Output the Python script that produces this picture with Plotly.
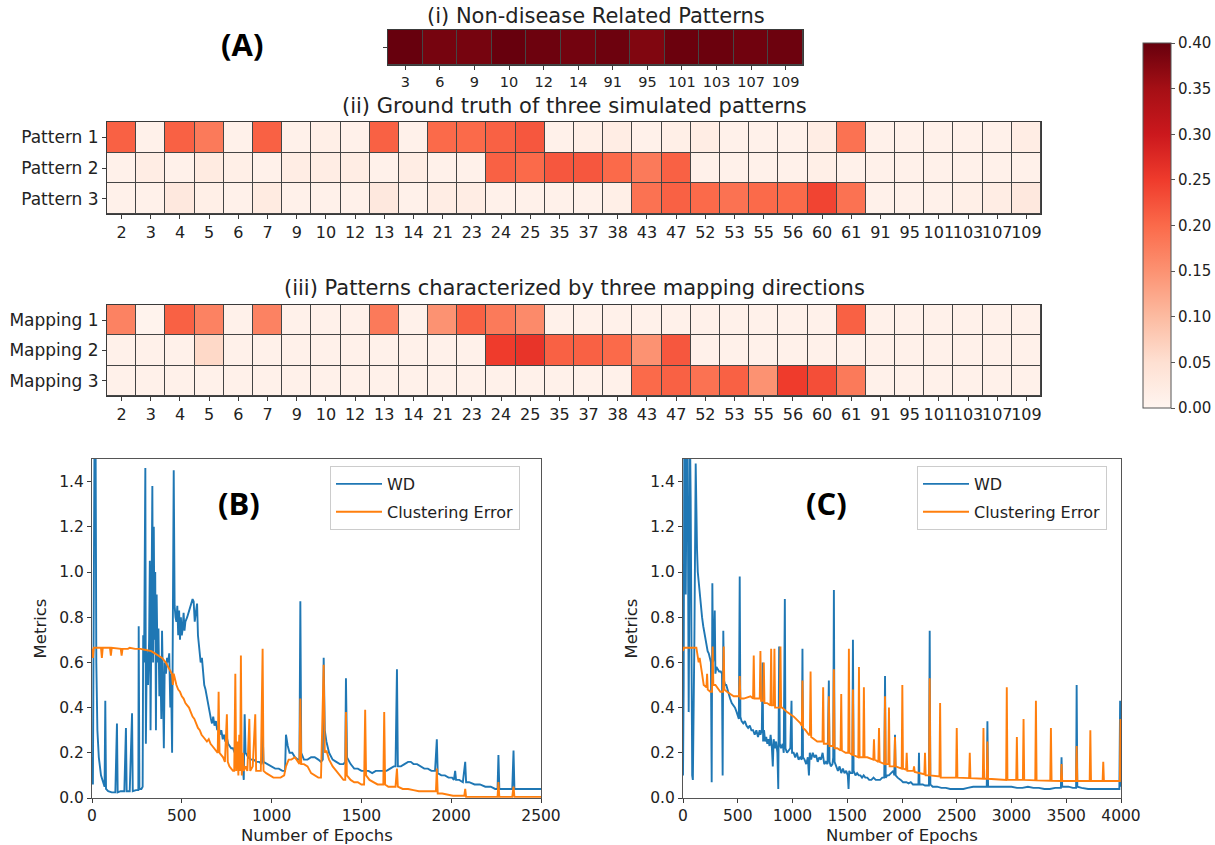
import plotly.graph_objects as go

# ---------------- data ----------------
nd_labels = ["3", "6", "9", "10", "12", "14", "91", "95", "101", "103", "107", "109"]
nd_values = [0.40, 0.388, 0.388, 0.40, 0.395, 0.39, 0.395, 0.38, 0.397, 0.397, 0.393, 0.395]

region_labels = ["2", "3", "4", "5", "6", "7", "9", "10", "12", "13", "14", "21", "23", "24",
                 "25", "35", "37", "38", "43", "47", "52", "53", "55", "56", "60", "61",
                 "91", "95", "101", "103", "107", "109"]
pattern_names = ["Pattern 1", "Pattern 2", "Pattern 3"]
pattern_1 = [0.21, 0.01, 0.21, 0.18, 0.01, 0.21, 0.01, 0.015, 0.01, 0.21, 0.01, 0.2, 0.2, 0.21,
             0.22, 0.01, 0.015, 0.02, 0.01, 0.015, 0.02, 0.01, 0.01, 0.01, 0.02, 0.19,
             0.01, 0.01, 0.01, 0.01, 0.01, 0.02]
pattern_2 = [0.01, 0.02, 0.01, 0.025, 0.015, 0.01, 0.02, 0.02, 0.02, 0.01, 0.02, 0.01, 0.01, 0.21,
             0.2, 0.22, 0.22, 0.2, 0.18, 0.21, 0.01, 0.01, 0.01, 0.01, 0.015, 0.01,
             0.01, 0.01, 0.01, 0.01, 0.01, 0.01]
pattern_3 = [0.01, 0.01, 0.03, 0.015, 0.01, 0.025, 0.01, 0.01, 0.01, 0.03, 0.01, 0.02, 0.02, 0.01,
             0.01, 0.01, 0.01, 0.015, 0.19, 0.21, 0.2, 0.19, 0.2, 0.2, 0.24, 0.19,
             0.01, 0.01, 0.01, 0.015, 0.02, 0.03]

mapping_names = ["Mapping 1", "Mapping 2", "Mapping 3"]
mapping_1 = [0.17, 0.005, 0.21, 0.17, 0.01, 0.17, 0.01, 0.01, 0.01, 0.18, 0.01, 0.15, 0.21, 0.18,
             0.16, 0.01, 0.01, 0.01, 0.01, 0.01, 0.01, 0.01, 0.01, 0.01, 0.01, 0.21,
             0.01, 0.01, 0.01, 0.01, 0.01, 0.01]
mapping_2 = [0.01, 0.01, 0.01, 0.06, 0.01, 0.01, 0.01, 0.01, 0.01, 0.01, 0.01, 0.01, 0.01, 0.25,
             0.26, 0.21, 0.21, 0.2, 0.15, 0.22, 0.01, 0.01, 0.01, 0.01, 0.01, 0.01,
             0.01, 0.01, 0.01, 0.01, 0.01, 0.01]
mapping_3 = [0.01, 0.01, 0.01, 0.01, 0.01, 0.01, 0.01, 0.01, 0.01, 0.01, 0.01, 0.01, 0.01, 0.01,
             0.01, 0.01, 0.01, 0.01, 0.2, 0.21, 0.19, 0.21, 0.15, 0.25, 0.23, 0.18,
             0.01, 0.01, 0.01, 0.01, 0.01, 0.01]

# (B) Wasserstein distance and clustering error, (epoch, value)
wd_b = [(0,0.18),(5,0.06),(10,0.9),(14,1.6),(20,1.6),(24,0.6),(30,0.3),(38,0.18),(50,0.1),(60,0.07),
        (70,0.05),(74,0.43),(78,0.04),(90,0.03),(110,0.025),(130,0.025),(139,0.33),(143,0.025),(160,0.03),
        (180,0.03),(189,0.31),(193,0.03),(210,0.03),(223,0.375),(227,0.03),(245,0.035),(258,0.035),
        (260,0.76),(264,0.04),(275,0.04),(282,0.05),(285,0.72),(290,0.6),(297,1.46),(300,0.24),(305,0.65),
        (312,0.5),(318,0.7),(322,1.05),(326,0.3),(330,0.9),(336,1.38),(340,0.6),(344,1.2),(348,0.7),
        (352,1.0),(356,0.3),(360,0.9),(365,0.6),(370,0.75),(375,0.45),(380,0.62),(386,0.35),(390,0.74),
        (395,0.5),(400,0.22),(405,0.6),(412,0.55),(418,0.62),(424,0.6),(430,0.64),(436,0.4),(440,0.55),
        (446,0.2),(455,1.45),(460,0.85),(465,0.8),(470,0.78),(475,0.85),(480,0.72),(485,0.83),(490,0.7),
        (495,0.8),(500,0.72),(505,0.75),(510,0.82),(515,0.74),(520,0.78),(530,0.8),(540,0.83),(550,0.85),
        (560,0.88),(566,0.87),(572,0.78),(578,0.82),(585,0.86),(590,0.72),(598,0.66),(605,0.6),(612,0.62),
        (618,0.55),(625,0.5),(632,0.48),(640,0.44),(648,0.42),(655,0.38),(662,0.35),(668,0.33),(675,0.36),
        (682,0.32),(690,0.34),(697,0.3),(705,0.32),(712,0.28),(720,0.3),(728,0.26),(735,0.28),(742,0.25),
        (750,0.27),(758,0.24),(765,0.23),(775,0.22),(785,0.22),(795,0.2),(805,0.2),(815,0.19),(825,0.2),
        (835,0.18),(845,0.08),(850,0.37),(855,0.2),(870,0.18),(885,0.17),(900,0.17),(915,0.16),(930,0.16),
        (945,0.15),(950,0.3),(955,0.16),(975,0.15),(1000,0.14),(1020,0.13),(1040,0.13),(1060,0.12),
        (1075,0.12),(1080,0.28),(1090,0.23),(1100,0.2),(1115,0.2),(1130,0.18),(1145,0.17),(1155,0.17),
        (1160,0.87),(1165,0.2),(1180,0.17),(1200,0.17),(1220,0.18),(1240,0.18),(1260,0.17),(1275,0.16),
        (1285,0.17),(1290,0.62),(1296,0.3),(1305,0.25),(1320,0.2),(1340,0.17),(1360,0.16),(1380,0.15),
        (1400,0.15),(1410,0.16),(1414,0.53),(1420,0.18),(1440,0.15),(1460,0.13),(1480,0.13),(1500,0.12),
        (1520,0.12),(1540,0.12),(1560,0.11),(1580,0.12),(1600,0.12),(1620,0.12),(1640,0.12),(1660,0.13),
        (1680,0.14),(1690,0.14),(1698,0.57),(1703,0.14),(1720,0.14),(1740,0.15),(1760,0.16),(1775,0.16),
        (1790,0.15),(1810,0.15),(1830,0.14),(1850,0.13),(1870,0.13),(1890,0.12),(1910,0.12),(1920,0.26),
        (1925,0.11),(1945,0.1),(1965,0.1),(1985,0.09),(2005,0.09),(2015,0.08),(2022,0.12),(2027,0.08),
        (2045,0.08),(2065,0.07),(2078,0.16),(2083,0.07),(2100,0.07),(2130,0.06),(2160,0.06),(2190,0.05),
        (2220,0.05),(2245,0.04),(2258,0.04),(2263,0.19),(2268,0.04),(2300,0.04),(2340,0.04),(2347,0.21),
        (2352,0.04),(2400,0.04),(2450,0.04),(2500,0.04)]
ce_b = [(0,0.66),(5,0.62),(10,0.665),(50,0.665),(55,0.62),(60,0.665),(100,0.665),(105,0.63),(110,0.665),
        (150,0.66),(160,0.66),(165,0.63),(170,0.66),(200,0.66),(210,0.665),(240,0.66),(270,0.66),(300,0.655),
        (330,0.65),(350,0.64),(370,0.63),(390,0.62),(410,0.6),(430,0.57),(445,0.55),(450,0.5),(455,0.55),
        (470,0.5),(480,0.48),(490,0.47),(500,0.45),(510,0.44),(520,0.42),(530,0.41),(540,0.4),(550,0.38),
        (560,0.36),(570,0.35),(580,0.33),(590,0.31),(600,0.3),(610,0.28),(620,0.27),(630,0.26),(640,0.25),
        (650,0.26),(660,0.24),(670,0.23),(680,0.22),(690,0.21),(700,0.2),(705,0.47),(710,0.2),(720,0.19),
        (730,0.18),(740,0.16),(751,0.37),(756,0.16),(765,0.14),(775,0.13),(785,0.12),(792,0.12),(798,0.55),
        (803,0.12),(810,0.25),(815,0.1),(820,0.28),(825,0.12),(829,0.63),(834,0.1),(840,0.2),(845,0.12),
        (855,0.14),(865,0.12),(876,0.35),(881,0.12),(895,0.14),(909,0.37),(914,0.12),(925,0.12),(940,0.12),
        (950,0.66),(955,0.12),(970,0.11),(990,0.1),(1010,0.09),(1030,0.09),(1050,0.09),(1070,0.1),
        (1080,0.14),(1095,0.17),(1110,0.17),(1130,0.18),(1145,0.16),(1155,0.15),(1160,0.44),(1165,0.15),
        (1180,0.15),(1200,0.14),(1220,0.11),(1240,0.1),(1260,0.09),(1275,0.09),(1290,0.59),(1296,0.2),
        (1305,0.21),(1320,0.17),(1340,0.14),(1360,0.12),(1380,0.1),(1400,0.08),(1410,0.08),(1414,0.38),
        (1419,0.1),(1440,0.08),(1460,0.07),(1480,0.07),(1500,0.06),(1515,0.06),(1521,0.39),(1526,0.1),
        (1545,0.08),(1565,0.07),(1590,0.06),(1610,0.06),(1622,0.06),(1627,0.38),(1632,0.06),(1650,0.05),
        (1670,0.05),(1690,0.05),(1698,0.13),(1703,0.05),(1730,0.04),(1760,0.04),(1790,0.035),(1820,0.03),
        (1860,0.03),(1900,0.03),(1915,0.03),(1920,0.13),(1925,0.02),(1950,0.02),(1980,0.015),(2010,0.01),
        (2040,0.01),(2073,0.01),(2078,0.04),(2083,0.005),(2120,0.005),(2200,0.005),(2258,0.005),(2263,0.07),
        (2268,0.005),(2340,0.005),(2347,0.05),(2352,0.005),(2420,0.005),(2500,0.005)]

# (C)
wd_c = [(0,0.1),(6,0.5),(12,1.6),(20,1.6),(25,0.9),(35,1.6),(42,1.6),(47,0.6),(52,0.38),(58,0.9),
        (64,1.6),(70,1.33),(76,0.6),(84,0.1),(90,0.08),(96,0.3),(104,0.7),(116,1.48),(122,1.2),(128,1.1),
        (135,1.0),(143,0.95),(155,0.9),(165,0.85),(174,0.8),(185,0.76),(195,0.73),(204,0.72),(215,0.68),
        (225,0.65),(235,0.64),(245,0.62),(255,0.6),(262,0.07),(268,0.95),(274,0.6),(280,0.62),(290,0.83),
        (296,0.55),(305,0.58),(315,0.57),(330,0.56),(345,0.56),(356,0.55),(362,0.1),(368,0.74),(374,0.52),
        (385,0.5),(395,0.5),(405,0.48),(415,0.46),(430,0.44),(445,0.42),(460,0.41),(475,0.4),(490,0.38),
        (500,0.36),(510,0.35),(518,0.98),(524,0.36),(535,0.34),(550,0.33),(565,0.34),(580,0.32),(595,0.31),
        (610,0.32),(625,0.3),(640,0.3),(655,0.28),(670,0.3),(685,0.27),(700,0.3),(707,0.28),(720,0.3),
        (727,0.6),(732,0.25),(740,0.3),(750,0.25),(760,0.27),(770,0.24),(780,0.26),(790,0.23),(800,0.28),
        (812,0.22),(820,0.14),(828,0.26),(840,0.22),(850,0.25),(862,0.2),(870,0.04),(878,0.67),(884,0.24),
        (895,0.22),(910,0.24),(920,0.2),(930,0.88),(936,0.22),(950,0.2),(965,0.21),(980,0.22),(991,0.43),
        (996,0.2),(1010,0.2),(1025,0.18),(1040,0.2),(1055,0.17),(1070,0.18),(1085,0.17),(1091,0.66),
        (1096,0.18),(1110,0.17),(1125,0.15),(1140,0.18),(1150,0.1),(1158,0.2),(1170,0.17),(1185,0.2),
        (1200,0.18),(1215,0.19),(1230,0.16),(1245,0.18),(1260,0.17),(1275,0.2),(1290,0.15),(1305,0.16),
        (1320,0.15),(1332,0.52),(1338,0.16),(1350,0.14),(1365,0.15),(1372,0.18),(1378,0.92),(1384,0.16),
        (1400,0.14),(1415,0.12),(1430,0.14),(1445,0.11),(1460,0.13),(1475,0.11),(1490,0.12),(1505,0.1),
        (1512,0.04),(1518,0.12),(1530,0.11),(1546,0.11),(1552,0.7),(1558,0.12),(1575,0.1),(1590,0.11),
        (1605,0.1),(1620,0.1),(1635,0.09),(1650,0.1),(1665,0.09),(1683,0.09),(1700,0.08),(1720,0.08),
        (1740,0.09),(1760,0.08),(1780,0.08),(1800,0.08),(1820,0.09),(1838,0.09),(1845,0.54),(1851,0.09),
        (1865,0.1),(1880,0.1),(1900,0.11),(1920,0.12),(1930,0.1),(1936,0.28),(1942,0.1),(1960,0.09),
        (1988,0.08),(2010,0.07),(2040,0.07),(2060,0.065),(2080,0.07),(2100,0.06),(2120,0.06),(2150,0.06),
        (2155,0.2),(2160,0.06),(2190,0.06),(2210,0.055),(2246,0.055),(2253,0.74),(2259,0.06),(2280,0.05),
        (2320,0.05),(2360,0.045),(2400,0.045),(2440,0.04),(2480,0.04),(2520,0.04),(2560,0.04),(2600,0.045),
        (2650,0.05),(2700,0.05),(2774,0.05),(2780,0.34),(2786,0.05),(2850,0.05),(2900,0.05),(2950,0.05),
        (3000,0.05),(3050,0.045),(3100,0.045),(3150,0.05),(3200,0.045),(3250,0.045),(3300,0.04),(3350,0.04),
        (3400,0.045),(3451,0.045),(3457,0.18),(3463,0.05),(3520,0.05),(3560,0.045),(3590,0.045),(3595,0.5),
        (3601,0.05),(3640,0.045),(3700,0.04),(3760,0.04),(3820,0.04),(3880,0.04),(3940,0.04),(3985,0.04),
        (3992,0.43),(3998,0.05),(4000,0.05)]
ce_c = [(0,0.65),(6,0.665),(60,0.665),(122,0.665),(143,0.6),(152,0.62),(174,0.55),(189,0.5),(214,0.49),
        (220,0.55),(226,0.48),(250,0.47),(265,0.47),(271,0.67),(277,0.5),(296,0.5),(341,0.47),(366,0.47),
        (372,0.67),(378,0.48),(402,0.47),(463,0.45),(512,0.45),(518,0.54),(524,0.44),(555,0.44),(616,0.45),
        (640,0.44),(646,0.63),(652,0.44),(677,0.44),(701,0.44),(707,0.65),(713,0.43),(732,0.43),(738,0.6),
        (744,0.42),(768,0.42),(799,0.41),(805,0.66),(811,0.41),(829,0.41),(835,0.66),(841,0.4),(884,0.4),
        (890,0.67),(896,0.4),(905,0.4),(951,0.38),(1012,0.36),(1073,0.33),(1085,0.32),(1091,0.52),
        (1097,0.31),(1119,0.3),(1149,0.28),(1159,0.28),(1165,0.56),(1171,0.27),(1226,0.25),(1274,0.25),
        (1280,0.49),(1286,0.24),(1317,0.24),(1326,0.24),(1332,0.45),(1338,0.23),(1372,0.23),(1378,0.57),
        (1384,0.22),(1409,0.22),(1439,0.21),(1445,0.46),(1451,0.21),(1485,0.2),(1509,0.2),(1515,0.66),
        (1521,0.2),(1546,0.19),(1552,0.48),(1558,0.19),(1601,0.18),(1607,0.58),(1613,0.18),(1646,0.18),
        (1652,0.49),(1658,0.18),(1683,0.18),(1738,0.17),(1744,0.26),(1750,0.17),(1784,0.16),(1790,0.31),
        (1796,0.16),(1839,0.15),(1845,0.45),(1851,0.15),(1875,0.15),(1881,0.4),(1887,0.14),(1930,0.14),
        (1936,0.27),(1942,0.14),(1997,0.13),(2003,0.5),(2009,0.13),(2037,0.125),(2043,0.2),(2049,0.12),
        (2104,0.12),(2110,0.14),(2116,0.115),(2204,0.105),(2210,0.2),(2216,0.1),(2247,0.1),(2253,0.53),
        (2259,0.1),(2342,0.095),(2348,0.42),(2354,0.09),(2400,0.09),(2494,0.09),(2500,0.31),(2506,0.09),
        (2613,0.088),(2619,0.2),(2625,0.088),(2738,0.085),(2744,0.31),(2750,0.085),(2774,0.085),
        (2780,0.25),(2786,0.085),(2951,0.08),(2957,0.49),(2963,0.08),(3043,0.08),(3049,0.27),(3055,0.08),
        (3104,0.08),(3110,0.35),(3116,0.08),(3217,0.078),(3223,0.43),(3229,0.078),(3354,0.076),
        (3360,0.31),(3366,0.076),(3451,0.075),(3457,0.15),(3463,0.075),(3589,0.075),(3595,0.23),
        (3601,0.075),(3714,0.075),(3720,0.3),(3726,0.075),(3832,0.075),(3838,0.16),(3844,0.075),
        (3990,0.075),(3995,0.35),(4000,0.08)]

# ---------------- figure ----------------
W, H = 1215, 845
def px_x(a, b):
    return [a / W, b / W]
def px_y(top, bottom):
    return [1 - bottom / H, 1 - top / H]

reds = [[0.0, "rgb(255,245,240)"], [0.125, "rgb(254,224,210)"], [0.25, "rgb(252,187,161)"],
        [0.375, "rgb(252,146,114)"], [0.5, "rgb(251,106,74)"], [0.625, "rgb(239,59,44)"],
        [0.75, "rgb(203,24,29)"], [0.875, "rgb(165,15,21)"], [1.0, "rgb(103,0,13)"]]

FONT = "DejaVu Sans"
BLUE = "#1f77b4"
ORANGE = "#ff7f0e"
fig = go.Figure()

fig.add_trace(go.Heatmap(z=[nd_values], x=list(range(len(nd_labels))), y=[0],
                         coloraxis="coloraxis", xgap=1, ygap=1,
                         xaxis="x", yaxis="y", hoverinfo="skip"))
fig.add_trace(go.Heatmap(z=[pattern_1, pattern_2, pattern_3],
                         x=list(range(len(region_labels))), y=[0, 1, 2],
                         coloraxis="coloraxis", xgap=1, ygap=1,
                         xaxis="x2", yaxis="y2", hoverinfo="skip"))
fig.add_trace(go.Heatmap(z=[mapping_1, mapping_2, mapping_3],
                         x=list(range(len(region_labels))), y=[0, 1, 2],
                         coloraxis="coloraxis", xgap=1, ygap=1,
                         xaxis="x3", yaxis="y3", hoverinfo="skip"))

for data, name, col, ax, lg, grp in [
        (wd_b, "WD", BLUE, ("x4", "y4"), "legend", "b1"),
        (ce_b, "Clustering Error", ORANGE, ("x4", "y4"), "legend", "b2"),
        (wd_c, "WD", BLUE, ("x5", "y5"), "legend2", "c1"),
        (ce_c, "Clustering Error", ORANGE, ("x5", "y5"), "legend2", "c2")]:
    fig.add_trace(go.Scatter(x=[p[0] for p in data], y=[p[1] for p in data], mode="lines",
                             name=name, line=dict(color=col, width=1.9),
                             xaxis=ax[0], yaxis=ax[1], legend=lg, legendgroup=grp,
                             cliponaxis=True))

edge = "#3a3a3a"

def hm_xaxis(domain, labels, anchor, size):
    return dict(domain=domain, anchor=anchor, range=[-0.5, len(labels) - 0.5],
                tickmode="array", tickvals=list(range(len(labels))), ticktext=labels,
                ticks="outside", ticklen=4, tickcolor=edge, tickangle=0,
                tickfont=dict(family=FONT, size=size, color="#222"),
                showline=True, mirror=True, linecolor=edge, linewidth=1,
                showgrid=False, zeroline=False, fixedrange=True, automargin=False)

def hm_yaxis(domain, labels, anchor, size=17):
    return dict(domain=domain, anchor=anchor, range=[len(labels) - 0.5, -0.5],
                tickmode="array", tickvals=list(range(len(labels))), ticktext=labels,
                ticks="outside", ticklen=4, tickcolor=edge,
                tickfont=dict(family=FONT, size=size, color="#222"),
                showline=True, mirror=True, linecolor=edge, linewidth=1,
                showgrid=False, zeroline=False, fixedrange=True, automargin=False)

line_tick = dict(family=FONT, size=15.5, color="#222")
def line_xaxis(domain, anchor, rng, dtick):
    return dict(domain=domain, anchor=anchor, range=rng, dtick=dtick, tick0=0,
                ticks="outside", ticklen=3.5, tickcolor=edge, tickfont=line_tick,
                showline=True, mirror=True, linecolor="#555", linewidth=1.2,
                showgrid=False, zeroline=False, automargin=False)
def line_yaxis(domain, anchor):
    return dict(domain=domain, anchor=anchor, range=[0, 1.5], tickvals=[0, 0.2, 0.4, 0.6, 0.8, 1.0, 1.2, 1.4],
                ticktext=["0.0", "0.2", "0.4", "0.6", "0.8", "1.0", "1.2", "1.4"],
                ticks="outside", ticklen=4, tickcolor=edge, tickfont=line_tick,
                showline=True, mirror=True, linecolor="#555", linewidth=1.2,
                showgrid=False, zeroline=False, automargin=False,
                title=dict(text="Metrics", font=dict(family=FONT, size=16.5, color="#222"), standoff=8))

hm1_x = px_x(388, 803)
hm1_y = px_y(30, 65)
hm_x = px_x(107, 1041)
hm2_y = px_y(122, 214)
hm3_y = px_y(305, 396)
b_x = px_x(92, 541)
c_x = px_x(683, 1121)
lp_y = px_y(459, 798)

leg_common = dict(yanchor="top", xanchor="left", bgcolor="rgba(255,255,255,0.9)",
                  bordercolor="#cccccc", borderwidth=1, itemwidth=46,
                  font=dict(family=FONT, size=16, color="#222"), tracegroupgap=4)

fig.update_layout(
    width=W, height=H, margin=dict(l=0, r=0, t=0, b=0),
    paper_bgcolor="white", plot_bgcolor="white",
    font=dict(family=FONT, color="#222"),
    xaxis=hm_xaxis(hm1_x, nd_labels, "y", 14.5),
    yaxis=dict(hm_yaxis(hm1_y, [""], "x"), tickvals=[0], ticktext=[""]),
    xaxis2=hm_xaxis(hm_x, region_labels, "y2", 16),
    yaxis2=hm_yaxis(hm2_y, pattern_names, "x2"),
    xaxis3=hm_xaxis(hm_x, region_labels, "y3", 16),
    yaxis3=hm_yaxis(hm3_y, mapping_names, "x3"),
    xaxis4=line_xaxis(b_x, "y4", [0, 2500], 500),
    yaxis4=line_yaxis(lp_y, "x4"),
    xaxis5=line_xaxis(c_x, "y5", [0, 4000], 500),
    yaxis5=line_yaxis(lp_y, "x5"),
    coloraxis=dict(colorscale=reds, cmin=0, cmax=0.4,
                   colorbar=dict(x=1143 / W, xanchor="left", y=1 - 43 / H, yanchor="top",
                                 len=(408 - 43) / H, lenmode="fraction", thickness=28,
                                 thicknessmode="pixels", outlinewidth=1, outlinecolor="#555",
                                 xpad=0, ypad=0,
                                 tickvals=[0, 0.05, 0.1, 0.15, 0.2, 0.25, 0.3, 0.35, 0.4],
                                 ticktext=["0.00", "0.05", "0.10", "0.15", "0.20", "0.25", "0.30", "0.35", "0.40"],
                                 ticks="outside", ticklen=4, tickcolor="#555",
                                 tickfont=dict(family=FONT, size=15, color="#222"))),
    legend=dict(leg_common, x=330 / W, y=1 - 466 / H),
    legend2=dict(leg_common, x=917 / W, y=1 - 466 / H),
)

for xr, yr in [("x", "y"), ("x2", "y2"), ("x3", "y3")]:
    fig.add_shape(type="rect", xref=f"{xr} domain", yref=f"{yr} domain", x0=0, x1=1, y0=0, y1=1,
                  fillcolor="#454545", line=dict(width=0), layer="below")

title_font = dict(family=FONT, size=21, color="#222")
label_font = dict(family="Open Sans", size=31, color="black")
xt_font = dict(family=FONT, size=16.5, color="#222")
annos = [
    ("(i) Non-disease Related Patterns", (388 + 803) / 2 / W, 1 - 16 / H, title_font, "middle", 0),
    ("(ii) Ground truth of three simulated patterns", (107 + 1041) / 2 / W, 1 - 106 / H, title_font, "middle", 0),
    ("(iii) Patterns characterized by three mapping directions", (107 + 1041) / 2 / W, 1 - 288 / H, title_font, "middle", 0),
    ("<b>(A)</b>", 242 / W, 1 - 44 / H, label_font, "middle", 0),
    ("<b>(B)</b>", 239 / W, 1 - 503 / H, label_font, "middle", 0),
    ("<b>(C)</b>", 826 / W, 1 - 503 / H, label_font, "middle", 0),
    ("Number of Epochs", (92 + 541) / 2 / W, 0, xt_font, "bottom", -1),
    ("Number of Epochs", (683 + 1121) / 2 / W, 0, xt_font, "bottom", -1),
]
for text, x, y, f, ya, ys in annos:
    fig.add_annotation(text=text, x=x, y=y, xref="paper", yref="paper", xanchor="center",
                       yanchor=ya, yshift=ys, showarrow=False, font=f, borderpad=0)

fig.write_html("out.html", config={"displayModeBar": False},
               post_script="document.body.style.margin='0px';document.body.style.overflow='hidden';")
